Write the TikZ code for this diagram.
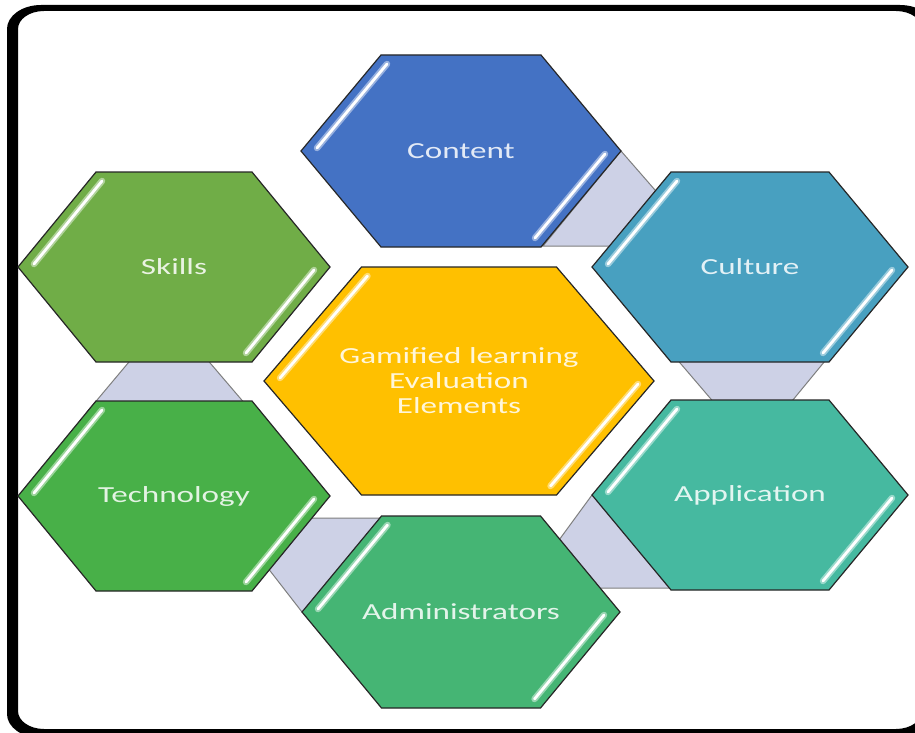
\documentclass[tikz,border=0pt]{standalone}
\usepackage{fontspec}
\setmainfont{Carlito}[FakeStretch=1.44]
\definecolor{cContent}{HTML}{4472C4}
\definecolor{cCulture}{HTML}{48A0C0}
\definecolor{cSkills}{HTML}{70AD47}
\definecolor{cTech}{HTML}{48B048}
\definecolor{cAdmin}{HTML}{45B574}
\definecolor{cApp}{HTML}{46B9A0}
\definecolor{cCenter}{HTML}{FFC000}
\definecolor{linkfill}{HTML}{CDD1E6}
\definecolor{linkline}{HTML}{7F7F7F}
\newcommand\myhex[7]{%
  \path[hexshape, fill=#6] (#2-#4,#3) -- (#2-#4/2,#3-#5) -- (#2+#4/2,#3-#5) -- (#2+#4,#3) -- (#2+#4/2,#3+#5) -- (#2-#4/2,#3+#5) -- cycle;
  \draw[stripglow=#6] (#2-#4+16,#3-3) -- (#2-#4/2+6,#3-#5+9);
  \draw[stripcore] (#2-#4+16,#3-3) -- (#2-#4/2+6,#3-#5+9);
  \draw[stripglow=#6] (#2+#4-16,#3+3) -- (#2+#4/2-6,#3+#5-9);
  \draw[stripcore] (#2+#4-16,#3+3) -- (#2+#4/2-6,#3+#5-9);
  \node[hextext, text=white!85!#6] (#1) at (#2,#3) {#7};}
\begin{document}
\begin{tikzpicture}[x=1pt,y=-1pt,
  hexshape/.style={draw=black!85, line width=1.2pt, line join=miter},
  stripglow/.style={draw=white!45!#1, line width=6.5pt, line cap=round},
  stripcore/.style={draw=white, line width=2.8pt, line cap=round},
  link/.style={fill=linkfill, draw=linkline, line width=1pt},
  hextext/.style={font=\fontsize{23}{25}\selectfont, align=center, inner sep=0pt}]
\useasboundingbox (0,0) rectangle (915,733);
\clip (0,0) rectangle (915,733);
\fill[white] (0,0) rectangle (915,733);
% frame
\fill[black, even odd rule]
  (7+34,5) -- (934-34,5) arc[start angle=-90,end angle=0,x radius=34,y radius=24]
  -- (934,738-24) arc[start angle=0,end angle=90,x radius=34,y radius=24]
  -- (7+34,738) arc[start angle=90,end angle=180,x radius=34,y radius=24]
  -- (7,5+24) arc[start angle=180,end angle=270,x radius=34,y radius=24] -- cycle
  (18+26,11) -- (922-26,11) arc[start angle=-90,end angle=0,x radius=26,y radius=18]
  -- (922,729-18) arc[start angle=0,end angle=90,x radius=26,y radius=18]
  -- (18+26,729) arc[start angle=90,end angle=180,x radius=26,y radius=18]
  -- (18,11+18) arc[start angle=180,end angle=270,x radius=26,y radius=18] -- cycle;
\fill[white] (905,30) rectangle (916,705);
% connectors
\draw[link] (621,151) -- (682,221) -- (682,246) -- (543,246) -- cycle;
\draw[link] (669,350) -- (834,350) -- (783,412) -- (722,412) -- cycle;
\draw[link] (592,495) -- (680,495) -- (680,588) -- (540,588) -- (540,566) -- cycle;
\draw[link] (302,612) -- (250,545) -- (250,518) -- (420,518) -- (420,560) -- cycle;
\draw[link] (139,350) -- (199,350) -- (252,412) -- (87,412) -- cycle;
% hexagons
\myhex{content}{461}{151}{160}{96}{cContent}{Content}
\myhex{culture}{750}{267}{158}{95}{cCulture}{Culture}
\myhex{skills}{174}{267}{156}{95}{cSkills}{Skills}
\myhex{tech}{174}{496}{156}{95}{cTech}{Technology}
\myhex{admin}{461}{612}{159}{96}{cAdmin}{Administrators}
\myhex{app}{750}{495}{158}{95}{cApp}{Application}
\myhex{center}{459}{381}{195}{114}{cCenter}{Gamified learning\\Evaluation\\Elements}
\end{tikzpicture}
\end{document}
